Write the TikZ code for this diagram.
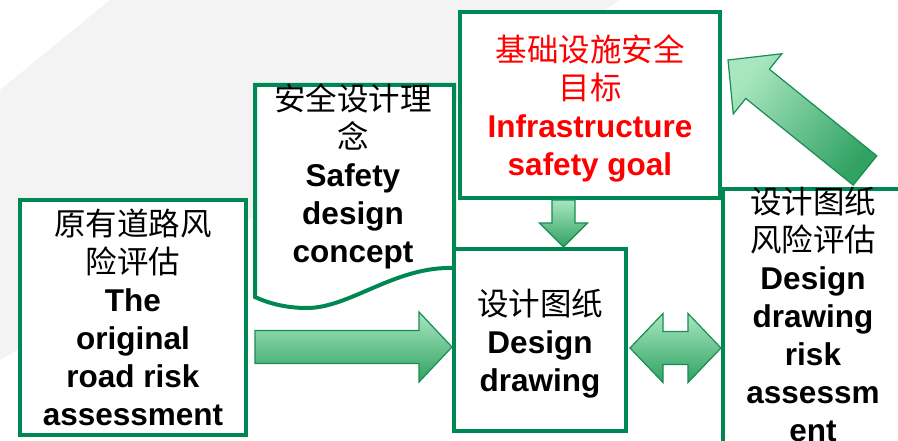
\documentclass[tikz,border=0pt]{standalone}
\usepackage{fontspec}
\setmainfont{Liberation Sans}
\newfontfamily\cjk{Noto Sans CJK SC}
\usetikzlibrary{calc}
\definecolor{bgreen}{RGB}{0,136,84}
\definecolor{alight}{RGB}{168,230,192}
\definecolor{adark}{RGB}{48,162,98}
\definecolor{aedge}{RGB}{22,142,82}
\definecolor{bggray}{RGB}{243,243,243}
\newcommand\zh[1]{{\cjk\mdseries #1}}
\newcommand\firstl{\rule{0pt}{28pt}}
% block arrow: #1 style, #2 tail, #3 tip, #4 shaft half width, #5 head half width, #6 head length
\newcommand\blockarrow[6]{%
  \path ($(#3)!#6!(#2)$) coordinate (bhA);
  \draw[#1] ($(#2)!#4!90:(#3)$) -- ($(bhA)!#4!-90:(#2)$) -- ($(bhA)!#5!-90:(#2)$) -- (#3)
    -- ($(bhA)!#5!90:(#2)$) -- ($(bhA)!#4!90:(#2)$) -- ($(#2)!#4!-90:(#3)$) -- cycle;}
% double block arrow: #1 style, #2 tip1, #3 tip2, #4 shaft half, #5 head half, #6 head length
\newcommand\dblblockarrow[6]{%
  \path ($(#2)!#6!(#3)$) coordinate (dhA) ($(#3)!#6!(#2)$) coordinate (dhB);
  \draw[#1] (#2) -- ($(dhA)!#5!90:(#3)$) -- ($(dhA)!#4!90:(#3)$) -- ($(dhB)!#4!-90:(#2)$)
    -- ($(dhB)!#5!-90:(#2)$) -- (#3) -- ($(dhB)!#5!90:(#2)$) -- ($(dhB)!#4!90:(#2)$)
    -- ($(dhA)!#4!-90:(#3)$) -- ($(dhA)!#5!-90:(#3)$) -- cycle;}
\begin{document}
\begin{tikzpicture}[x=1pt,y=-1pt,
  box/.style={draw=bgreen, line width=4pt, fill=white, inner sep=0pt, rectangle},
  txt/.style={anchor=north, inner sep=0pt, align=center, font=\fontsize{31.5}{38}\selectfont\bfseries},
  arrowst/.style={draw=aedge, line width=1.2pt, line join=miter, top color=alight, bottom color=adark}]
\useasboundingbox (0,0) rectangle (898,441);
\fill[white] (0,0) rectangle (898,441);
\fill[bggray] (0,90) -- (110,0) -- (620,0) .. controls (500,80) and (250,220) .. (0,360) -- cycle;

% safety design concept (document shape)
\draw[draw=bgreen, line width=4pt, fill=white, line join=miter]
  (255,85) -- (454,85) -- (454,268) .. controls (395,266) and (350,308) .. (307,308)
  .. controls (285,308) and (268,303) .. (255,297) -- cycle;
\node[txt] (concepttext) at (353,82) {\firstl\zh{安全设计理}\\\zh{念}\\Safety\\design\\concept};

% boxes
\node[box, minimum width=226pt, minimum height=235pt] (orig) at (133,317.5) {};
\node[txt] (origtext) at (133,207) {\firstl\zh{原有道路风}\\\zh{险评估}\\The\\original\\road risk\\assessment};

\node[box, minimum width=172pt, minimum height=182pt] (design) at (540,340) {};
\node[txt] (designtext) at (540,287) {\firstl\zh{设计图纸}\\Design\\drawing};

\node[box, minimum width=260pt, minimum height=186pt] (goal) at (590,105) {};
\node[txt, text=red] (goaltext) at (590,33) {\firstl\zh{基础设施安全}\\\zh{目标}\\Infrastructure\\safety goal};

\node[box, minimum width=180pt, minimum height=281pt] (risk) at (813,329.5) {};
\node[txt] (risktext) at (813,185) {\firstl\zh{设计图纸}\\\zh{风险评估}\\Design\\drawing\\risk\\assessm\\ent};

% connectors
\coordinate (a1tail) at ([xshift=7pt]orig.east |- 0,347);
\coordinate (a1tip) at (design.west |- 0,347);
\blockarrow{arrowst}{a1tail}{a1tip}{16.5pt}{35pt}{33pt}

\coordinate (a2tail) at ([xshift=-26.5pt]goal.south);
\coordinate (a2tip) at (a2tail |- design.north);
\blockarrow{arrowst}{a2tail}{a2tip}{11.5pt}{24pt}{24pt}

\coordinate (a3left) at ([xshift=2pt]design.east |- 0,348);
\coordinate (a3right) at (risk.west |- 0,348);
\dblblockarrow{arrowst}{a3left}{a3right}{16.5pt}{34.5pt}{33pt}

\coordinate (a4tail) at (865,170.5);
\coordinate (a4tip) at ([xshift=6pt,yshift=45pt]goal.east);
\blockarrow{arrowst, shading angle=51}{a4tail}{a4tip}{18.8pt}{38.7pt}{38pt}
\end{tikzpicture}
\end{document}
